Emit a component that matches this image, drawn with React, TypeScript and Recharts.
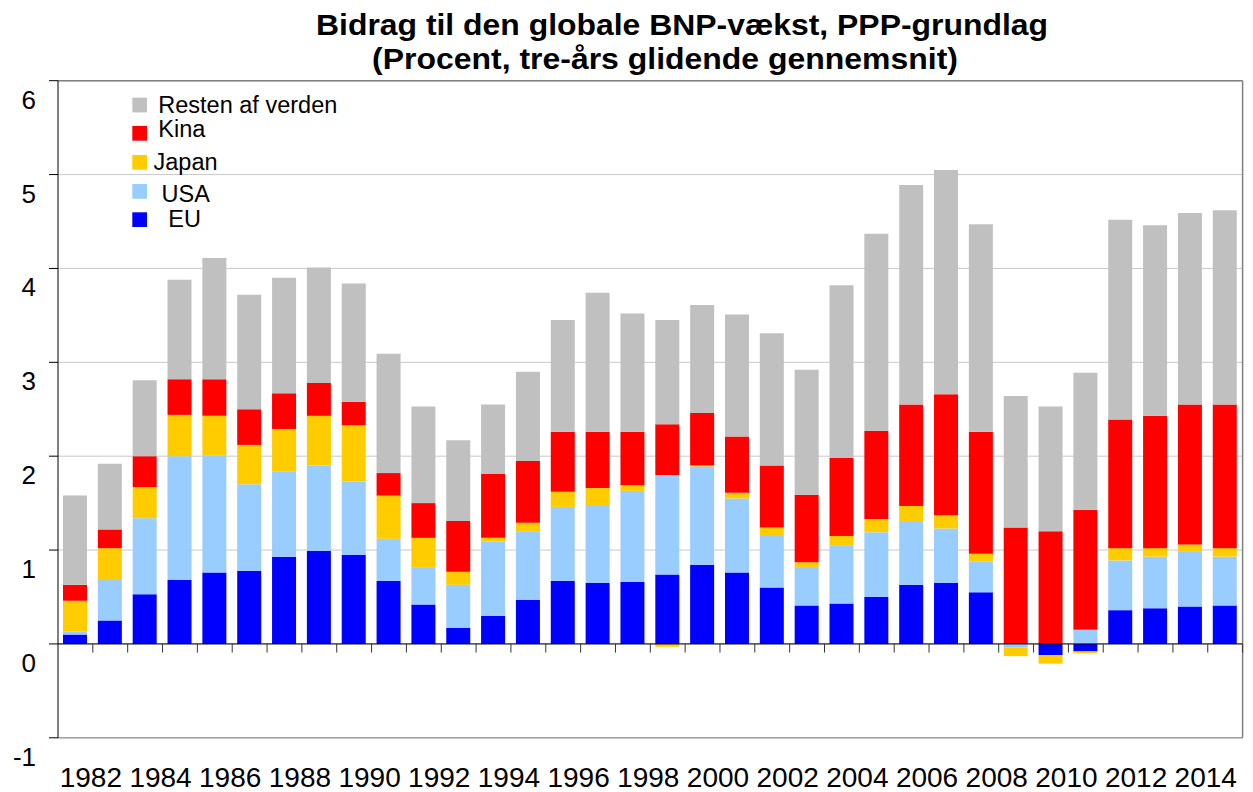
import React from 'react';
import { BarChart, Bar, XAxis, YAxis, CartesianGrid, ReferenceLine, Legend } from 'recharts';

const years = [
  1982, 1983, 1984, 1985, 1986, 1987, 1988, 1989, 1990, 1991, 1992, 1993,
  1994, 1995, 1996, 1997, 1998, 1999, 2000, 2001, 2002, 2003, 2004, 2005,
  2006, 2007, 2008, 2009, 2010, 2011, 2012, 2013, 2014, 2015,
];

const eu = [
  0.1, 0.25, 0.53, 0.68, 0.76, 0.78, 0.93, 0.99, 0.95, 0.67, 0.42, 0.17,
  0.3, 0.47, 0.67, 0.65, 0.66, 0.74, 0.84, 0.76, 0.6, 0.41, 0.43, 0.5,
  0.63, 0.65, 0.55, 0.0, -0.12, -0.08, 0.36, 0.38, 0.4, 0.41,
];

const usa = [
  0.03, 0.43, 0.81, 1.32, 1.25, 0.92, 0.91, 0.91, 0.78, 0.45, 0.39, 0.46,
  0.79, 0.73, 0.79, 0.83, 0.97, 1.06, 1.05, 0.79, 0.55, 0.41, 0.62, 0.69,
  0.68, 0.58, 0.33, -0.04, 0.0, 0.15, 0.53, 0.55, 0.58, 0.52,
];

const japan = [
  0.33, 0.34, 0.33, 0.44, 0.42, 0.42, 0.45, 0.53, 0.6, 0.46, 0.32, 0.14,
  0.04, 0.09, 0.16, 0.18, 0.06, -0.03, 0.01, 0.06, 0.09, 0.05, 0.1, 0.14,
  0.16, 0.14, 0.08, -0.09, -0.09, -0.02, 0.13, 0.09, 0.08, 0.09,
];

const kina = [
  0.17, 0.2, 0.33, 0.38, 0.39, 0.38, 0.38, 0.35, 0.25, 0.24, 0.37, 0.54,
  0.68, 0.66, 0.64, 0.6, 0.57, 0.54, 0.56, 0.6, 0.66, 0.72, 0.83, 0.94,
  1.08, 1.29, 1.3, 1.24, 1.2, 1.28, 1.37, 1.41, 1.49, 1.53,
];

const rest = [
  0.95, 0.7, 0.81, 1.06, 1.29, 1.22, 1.23, 1.23, 1.26, 1.27, 1.03, 0.86,
  0.74, 0.95, 1.19, 1.48, 1.26, 1.11, 1.15, 1.3, 1.41, 1.33, 1.84, 2.1,
  2.34, 2.39, 2.21, 1.4, 1.33, 1.46, 2.13, 2.03, 2.04, 2.07,
];

const yTicks = [-1, 0, 1, 2, 3, 4, 5, 6];

const titleLines = [
  'Bidrag til den globale BNP-vækst, PPP-grundlag',
  '(Procent, tre-års glidende gennemsnit)',
];

const data = years.map((year, i) => ({
  year,
  eu: eu[i],
  usa: usa[i],
  japan: japan[i],
  kina: kina[i],
  rest: rest[i],
}));

const series = [
  { key: 'eu', name: 'EU', color: '#0000FF' },
  { key: 'usa', name: 'USA', color: '#99CCFF' },
  { key: 'japan', name: 'Japan', color: '#FFCC00' },
  { key: 'kina', name: 'Kina', color: '#FF0000' },
  { key: 'rest', name: 'Resten af verden', color: '#C0C0C0' },
];

const W = 1253;
const H = 792;
const MARGIN = { top: 80.7, right: 10.4, left: 0, bottom: 0 };
const Y_AXIS_W = 58;
const X_AXIS_H = 54.2;
const PLOT_W = W - MARGIN.left - MARGIN.right - Y_AXIS_W;
const BAND = PLOT_W / years.length;
const FONT = '"Liberation Sans", Arial, Helvetica, sans-serif';

// legend layout (top to bottom), styles only
const legendLayout: Record<string, { sqTop: number; textX: number; baseline: number }> = {
  rest: { sqTop: 97.7, textX: 158.3, baseline: 112.7 },
  kina: { sqTop: 126, textX: 158.3, baseline: 136.7 },
  japan: { sqTop: 155, textX: 153.5, baseline: 170 },
  usa: { sqTop: 184, textX: 161.5, baseline: 201.7 },
  eu: { sqTop: 212.3, textX: 168.3, baseline: 226.7 },
};

function XTick(props: any) {
  const { x, y, payload } = props;
  return (
    <text
      x={x + BAND / 2 - 2}
      y={y + 49}
      textAnchor="middle"
      fontSize={28}
      fontFamily={FONT}
      fill="#000"
    >
      {payload.value}
    </text>
  );
}

function YTick(props: any) {
  const { x, y, payload } = props;
  return (
    <text
      x={x - 13}
      y={y + 28}
      textAnchor="end"
      fontSize={26}
      fontFamily={FONT}
      fill="#000"
    >
      {payload.value}
    </text>
  );
}

function LegendContent(props: any) {
  const payload: any[] = props.payload || [];
  return (
    <svg width={400} height={240} style={{ position: 'absolute', left: 0, top: 0, overflow: 'visible' }}>
      {payload.map((p: any) => {
        const key = p.dataKey as string;
        const l = legendLayout[key];
        if (!l) return null;
        return (
          <g key={key}>
            <rect x={132.3} y={l.sqTop} width={14.7} height={14.7} fill={p.color} />
            <text x={l.textX} y={l.baseline} fontSize={23.5} fontFamily={FONT} fill="#000">
              {p.value}
            </text>
          </g>
        );
      })}
    </svg>
  );
}

export default function App() {
  return (
    <div style={{ position: 'absolute', left: 0, top: 0, width: W, height: H, background: '#fff' }}>
      <svg width={W} height={80} style={{ position: 'absolute', left: 0, top: 0 }}>
        <text
          x={316}
          y={35}
          fontSize={29}
          fontWeight="bold"
          fontFamily={FONT}
          textLength={732}
          lengthAdjust="spacingAndGlyphs"
          fill="#000"
        >
          {titleLines[0]}
        </text>
        <text
          x={372}
          y={69}
          fontSize={29}
          fontWeight="bold"
          fontFamily={FONT}
          textLength={586}
          lengthAdjust="spacingAndGlyphs"
          fill="#000"
        >
          {titleLines[1]}
        </text>
      </svg>
      <div style={{ position: 'absolute', left: 0, top: 0 }}>
        <BarChart
          width={W}
          height={H}
          data={data}
          margin={MARGIN}
          stackOffset="sign"
          barSize={24}
        >
          <CartesianGrid vertical={false} stroke="#C8C8C8" />
          <XAxis
            dataKey="year"
            type="category"
            height={X_AXIS_H}
            axisLine={false}
            tickLine={false}
            tickSize={0}
            tickMargin={0}
            interval={1}
            tick={<XTick />}
          />
          <YAxis
            type="number"
            domain={[-1, 6]}
            ticks={yTicks}
            width={Y_AXIS_W}
            axisLine={{ stroke: '#000' }}
            tickLine={{ stroke: '#000' }}
            tickSize={9}
            tickMargin={0}
            interval={0}
            tick={<YTick />}
          />
          {series.map((s) => (
            <Bar
              key={s.key}
              dataKey={s.key}
              name={s.name}
              stackId="s"
              fill={s.color}
              isAnimationActive={false}
            />
          ))}
          <ReferenceLine y={6} stroke="#808080" strokeWidth={1.5} />
          <ReferenceLine y={-1} stroke="#A0A0A0" strokeWidth={1.5} />
          <ReferenceLine x={years[years.length - 1]} position="end" stroke="#808080" strokeWidth={1.5} />
          <ReferenceLine y={0} stroke="#000" />
          {years.map((yr) => (
            <ReferenceLine
              key={'t' + yr}
              segment={[
                { x: yr, y: 0 },
                { x: yr, y: -0.092 },
              ]}
              position="end"
              stroke="#333"
            />
          ))}
          <Legend
            layout="vertical"
            align="center"
            verticalAlign="middle"
            wrapperStyle={{ position: 'absolute', left: 0, top: 0, width: 0, height: 0 }}
            content={<LegendContent />}
          />
        </BarChart>
      </div>
    </div>
  );
}
